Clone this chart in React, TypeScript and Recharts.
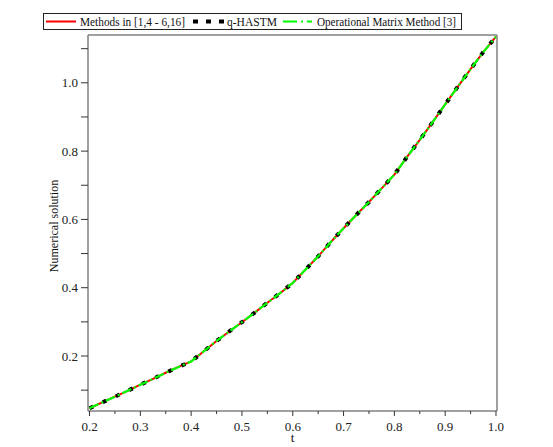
import React from "react";
import { LineChart, Line, XAxis, YAxis, ReferenceLine, Legend } from "recharts";

// t values
const T_VALUES = [
  0.2, 0.225, 0.25, 0.275, 0.3, 0.325, 0.35, 0.375, 0.4, 0.425, 0.45, 0.475, 0.5,
  0.525, 0.55, 0.575, 0.6, 0.625, 0.65, 0.675, 0.7, 0.725, 0.75, 0.775, 0.8,
  0.825, 0.85, 0.875, 0.9, 0.925, 0.95, 0.975, 1.0,
];
// Methods in [1,4 - 6,16]
const METHODS_VALUES = [
  0.047, 0.064, 0.081, 0.098, 0.116, 0.133, 0.151, 0.168, 0.184, 0.214, 0.244, 0.272, 0.299,
  0.327, 0.356, 0.384, 0.414, 0.453, 0.492, 0.534, 0.574, 0.613, 0.651, 0.691, 0.731,
  0.783, 0.833, 0.884, 0.937, 0.989, 1.04, 1.09, 1.135,
];
// q-HASTM
const QHASTM_VALUES = [
  0.047, 0.064, 0.081, 0.098, 0.116, 0.133, 0.151, 0.168, 0.184, 0.214, 0.244, 0.272, 0.299,
  0.327, 0.356, 0.384, 0.414, 0.453, 0.492, 0.534, 0.574, 0.613, 0.651, 0.691, 0.731,
  0.783, 0.833, 0.884, 0.937, 0.989, 1.04, 1.09, 1.135,
];
// Operational Matrix Method [3]
const OM_VALUES = [
  0.047, 0.064, 0.081, 0.098, 0.116, 0.133, 0.151, 0.168, 0.184, 0.214, 0.244, 0.272, 0.299,
  0.327, 0.356, 0.384, 0.414, 0.453, 0.492, 0.534, 0.574, 0.613, 0.651, 0.691, 0.731,
  0.783, 0.833, 0.884, 0.937, 0.989, 1.04, 1.09, 1.135,
];

const X_TICKS = [0.2, 0.25, 0.3, 0.35, 0.4, 0.45, 0.5, 0.55, 0.6, 0.65, 0.7, 0.75, 0.8, 0.85, 0.9, 0.95, 1.0];
const Y_TICKS = [0.1, 0.2, 0.3, 0.4, 0.5, 0.6, 0.7, 0.8, 0.9, 1.0, 1.1];
const X_DOMAIN = [0.197, 1.002];
const Y_DOMAIN = [0.039, 1.14];

const SERIES_NAMES = ["Methods in [1,4 - 6,16]", "q-HASTM", "Operational Matrix Method [3]"];

const data = T_VALUES.map((t, i) => ({
  t,
  methods: METHODS_VALUES[i],
  qhastm: QHASTM_VALUES[i],
  om: OM_VALUES[i],
}));

const FONT = "'Liberation Serif', 'Times New Roman', serif";
const AXIS_GRAY = "#808080";

const XTick = (props: any) => {
  const { x, y, payload } = props;
  const v = payload.value as number;
  const major = Math.abs(v * 10 - Math.round(v * 10)) < 1e-6;
  const axisY = y - 10;
  return (
    <g>
      <line x1={x} x2={x} y1={axisY} y2={axisY + (major ? 5 : 3)} stroke="#333" strokeWidth={1} />
      {major && (
        <text x={x} y={axisY + 19.5} textAnchor="middle" fontFamily={FONT} fontSize={13} fill="#222">
          {v.toFixed(1)}
        </text>
      )}
    </g>
  );
};

const YTick = (props: any) => {
  const { x, y, payload } = props;
  const v = payload.value as number;
  const major = Math.round(v * 10) % 2 === 0;
  if (!major) return <g />;
  return (
    <text x={x} y={y + 4.5} textAnchor="end" fontFamily={FONT} fontSize={13} fill="#222">
      {v.toFixed(1)}
    </text>
  );
};

const LegendContent = () => {
  const txt = { fontFamily: FONT, fontSize: 11.5, fill: "#111", lengthAdjust: "spacingAndGlyphs" as const };
  return (
    <svg width={419} height={17} style={{ display: "block" }}>
      <rect x={0.5} y={0.5} width={418} height={16} fill="#fff" stroke="#222" strokeWidth={1} />
      <line x1={3} x2={33} y1={8.5} y2={8.5} stroke="#ff0000" strokeWidth={2} />
      <text x={37} y={12.5} textLength={105} {...txt}>{SERIES_NAMES[0]}</text>
      <line x1={150} x2={181} y1={8.5} y2={8.5} stroke="#000" strokeWidth={4} strokeDasharray="5 8" />
      <text x={184} y={12.5} textLength={50} {...txt}>{SERIES_NAMES[1]}</text>
      <line x1={240} x2={269} y1={8.5} y2={8.5} stroke="#00ff00" strokeWidth={2} strokeDasharray="14 4 2 4" />
      <text x={274} y={12.5} textLength={139} {...txt}>{SERIES_NAMES[2]}</text>
    </svg>
  );
};

export default function App() {
  return (
    <div style={{ position: "absolute", left: 0, top: 0, width: 553, height: 447, background: "#fff" }}>
      <LineChart width={553} height={447} data={data} margin={{ top: 35, right: 56, bottom: 0, left: 0 }}>
        <XAxis
          dataKey="t"
          type="number"
          domain={X_DOMAIN}
          ticks={X_TICKS}
          allowDataOverflow
          height={36}
          axisLine={{ stroke: AXIS_GRAY, strokeWidth: 1.5 }}
          tickLine={false}
          tickSize={5}
          tickMargin={5}
          tick={<XTick />}
          interval={0}
          label={{
            content: (p: any) => {
              const vb = p.viewBox;
              return (
                <text x={vb.x + vb.width / 2} y={vb.y + 31} textAnchor="middle" fontFamily={FONT} fontSize={13} fill="#111">
                  t
                </text>
              );
            },
          }}
        />
        <YAxis
          type="number"
          domain={Y_DOMAIN}
          ticks={Y_TICKS}
          allowDataOverflow
          width={88}
          axisLine={{ stroke: AXIS_GRAY, strokeWidth: 1.5 }}
          tickLine={{ stroke: "#333" }}
          tickSize={7}
          tickMargin={3}
          tick={<YTick />}
          interval={0}
          label={{
            content: (p: any) => {
              const vb = p.viewBox;
              const cx = vb.x + vb.width - 30;
              const cy = vb.y + vb.height / 2 + 3;
              return (
                <text
                  x={cx}
                  y={cy}
                  transform={`rotate(-90, ${cx}, ${cy})`}
                  textAnchor="middle"
                  fontFamily={FONT}
                  fontSize={12}
                  fill="#111"
                >
                  Numerical solution
                </text>
              );
            },
          }}
        />
        <ReferenceLine x={X_DOMAIN[1]} stroke={AXIS_GRAY} strokeWidth={1.5} />
        <ReferenceLine y={Y_DOMAIN[1]} stroke={AXIS_GRAY} strokeWidth={1.5} />
        <Legend
          layout="horizontal"
          verticalAlign="middle"
          align="center"
          content={<LegendContent />}
          wrapperStyle={{ top: 13, left: 43, width: 419, height: 17 }}
        />
        <Line
          type="linear"
          dataKey="methods"
          name={SERIES_NAMES[0]}
          stroke="#ff0000"
          strokeWidth={2}
          dot={false}
          isAnimationActive={false}
        />
        <Line
          type="linear"
          dataKey="qhastm"
          name={SERIES_NAMES[1]}
          stroke="#000000"
          strokeWidth={4}
          strokeDasharray="4 10.5"
          dot={false}
          isAnimationActive={false}
        />
        <Line
          type="linear"
          dataKey="om"
          name={SERIES_NAMES[2]}
          stroke="#00ff00"
          strokeWidth={2.2}
          strokeDasharray="10 3 2 3"
          dot={false}
          isAnimationActive={false}
        />
      </LineChart>
    </div>
  );
}
